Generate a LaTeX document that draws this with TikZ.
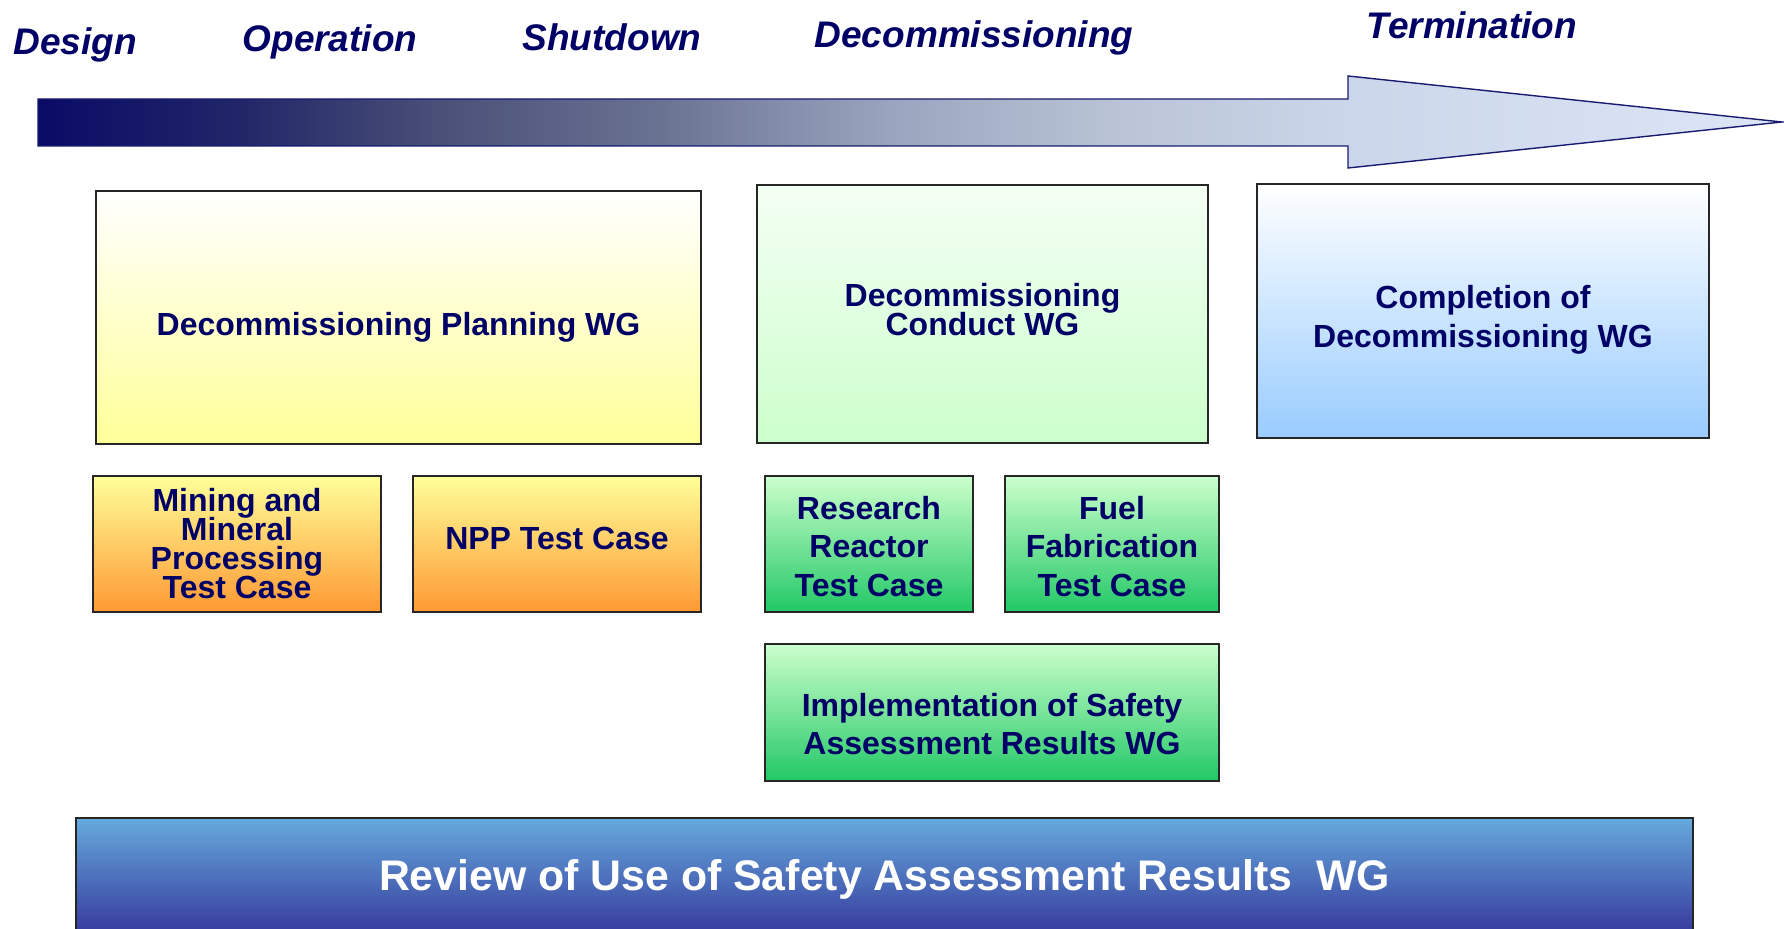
\documentclass[tikz,border=0pt]{standalone}
\usepackage{fontspec}
\setmainfont{Liberation Sans}
\usepackage{tikz}

\definecolor{ink}{HTML}{000066}
\definecolor{arrowline}{HTML}{1A1A70}
\definecolor{arrowdark}{HTML}{0A0A66}
\definecolor{tlone}{HTML}{222668}
\definecolor{tltwo}{HTML}{4A5078}
\definecolor{tlthree}{HTML}{6A7292}
\definecolor{tlfour}{HTML}{9AA4BE}
\definecolor{tlfive}{HTML}{BAC4D6}
\definecolor{tlsix}{HTML}{CCD6EA}
\definecolor{arrowlight}{HTML}{DCE6F6}
\definecolor{yellowmid}{HTML}{FFFFDA}
\definecolor{yellowbot}{HTML}{FFFF99}
\definecolor{mintop}{HTML}{F4FFF4}
\definecolor{minmid}{HTML}{E4FFE4}
\definecolor{minbot}{HTML}{CCFFCC}
\definecolor{skymid}{HTML}{DCEBFF}
\definecolor{skybot}{HTML}{99CCFF}
\definecolor{orangetop}{HTML}{FFFF99}
\definecolor{orangebot}{HTML}{FF9933}
\definecolor{greenbot}{HTML}{22C866}
\definecolor{reviewtop}{HTML}{66AADD}
\definecolor{reviewbot}{HTML}{333399}

\pgfdeclarehorizontalshading{timeline}{100bp}{color(0bp)=(arrowdark);
  color(25bp)=(arrowdark); color(30.8bp)=(tlone); color(36.5bp)=(tltwo);
  color(42.8bp)=(tlthree); color(49.4bp)=(tlfour); color(56bp)=(tlfive);
  color(62.6bp)=(tlsix); color(75bp)=(arrowlight); color(100bp)=(arrowlight)}

\newcommand{\tightlines}{\setlength{\lineskiplimit}{-20pt}}

\tikzset{
every picture/.style={
line width=1pt
}}

\begin{document}
\begin{tikzpicture}[x=0.5pt, y=-0.5pt,
phase/.style = {text=ink, font=\fontsize{18.5}{22}\selectfont\bfseries\itshape},
block/.style = {rectangle, draw=black!85, inner sep=0pt},
caption/.style = {align=center, text=ink, inner sep=0pt,
  font=\fontsize{16}{19.3}\selectfont\bfseries},
tight/.style = {caption, font=\tightlines\fontsize{16}{14.5}\selectfont\bfseries},
testcase/.style = {block, top color=orangetop, bottom color=orangebot,
  minimum width=144pt, minimum height=68pt},
greencase/.style = {block, top color=minbot, bottom color=greenbot,
  minimum height=68pt}]
\useasboundingbox (0,0) rectangle (1784,929);

% time line
\node[phase] at (75,45) (design) {Design};
\node[phase] at (330,42) (operation) {Operation};
\node[phase] at (612,37) (shutdown) {Shutdown};
\node[phase] at (974,38) (decom) {Decommissioning};
\node[phase] at (1472,25) (termination) {Termination};

\draw[draw=arrowline, line width=0.7pt, shade, shading=timeline]
  (38,99) -- (1348,99) -- (1348,76) -- (1782,122) -- (1348,168)
  -- (1348,146) -- (38,146) -- cycle;

% working groups
\node[block, top color=white, middle color=yellowmid, bottom color=yellowbot,
  minimum width=302.5pt, minimum height=126.5pt,
  label={[caption, yshift=-5pt]center:Decommissioning Planning WG}]
  at (398.5,317.5) (plan) {};
\node[block, top color=mintop, middle color=minmid, bottom color=minbot,
  minimum width=225.5pt, minimum height=129pt,
  label={[tight, yshift=2pt]center:{Decommissioning\\Conduct WG}}]
  at (982.5,314) (conduct) {};
\node[block, top color=white, middle color=skymid, bottom color=skybot,
  minimum width=226pt, minimum height=127pt,
  label={[caption, yshift=-4.5pt]center:{Completion of\\Decommissioning WG}}]
  at (1483,311) (completion) {};

% test cases
\node[testcase, label={[tight]center:{Mining and\\Mineral\\Processing\\Test Case}}]
  at (237,544) (mining) {};
\node[testcase, label={[caption, yshift=2.8pt]center:NPP Test Case}]
  at (557,544) (npp) {};
\node[greencase, minimum width=104pt,
  label={[caption, yshift=-1.1pt]center:{Research\\Reactor\\Test Case}}]
  at (869,544) (research) {};
\node[greencase, minimum width=107pt,
  label={[caption, yshift=-1.1pt]center:{Fuel\\Fabrication\\Test Case}}]
  at (1112,544) (fuel) {};
\node[greencase, minimum width=227pt, minimum height=68.5pt,
  label={[caption, yshift=-5.7pt]center:{Implementation of Safety\\Assessment Results WG}}]
  at (992,712.5) (implementation) {};

% review
\node[block, top color=reviewtop, bottom color=reviewbot,
  minimum width=808.5pt, minimum height=61pt,
  label={[caption, text=white, font=\fontsize{21.4}{25}\selectfont\bfseries]center:{Review of Use of Safety Assessment Results\ \ WG}}]
  at (884.5,879) (review) {};
\end{tikzpicture}
\end{document}
